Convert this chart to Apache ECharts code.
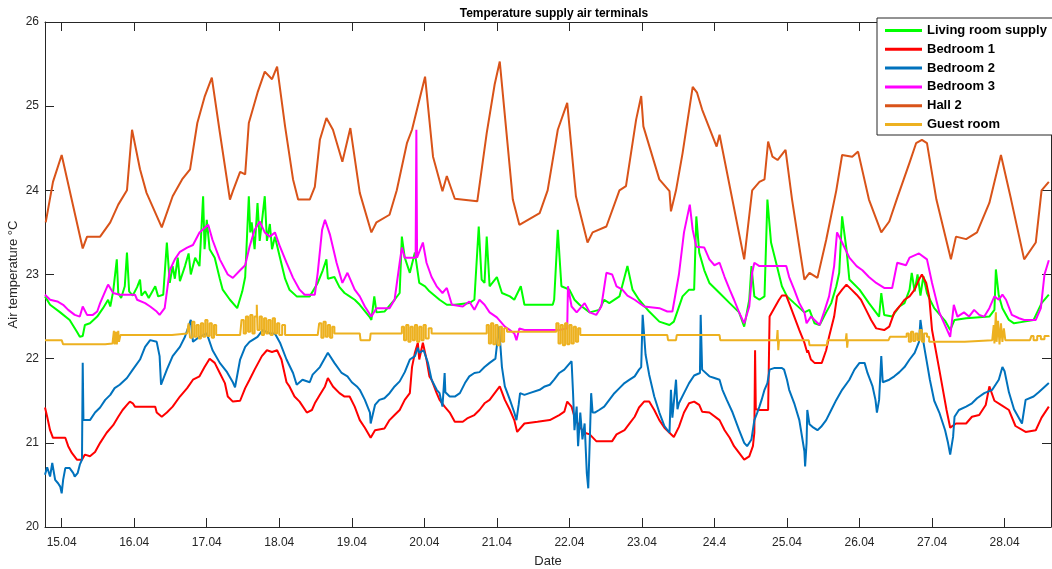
<!DOCTYPE html>
<html>
<head>
<meta charset="utf-8">
<script src="https://cdn.jsdelivr.net/npm/echarts@6/dist/echarts.min.js"></script>
<style>html,body{margin:0;padding:0;background:#fff}#c{width:1052px;height:569px}</style>
</head>
<body>
<div id="c"></div>
<script>
const dayTicks = [15,16,17,18,19,20,21,22,23,24,25,26,27,28];
const dayLabels = ['15.04','16.04','17.04','18.04','19.04','20.04','21.04','22.04','23.04','24.4','25.04','26.04','27.04','28.04'];
const seriesNames = ['Living room supply','Bedroom 1','Bedroom 2','Bedroom 3','Hall 2','Guest room'];

const livingRoom = [[14.77,22.74],[14.84,22.64],[14.98,22.55],[15.11,22.46],[15.21,22.32],[15.25,22.26],[15.29,22.27],[15.32,22.4],[15.39,22.42],[15.49,22.5],[15.57,22.6],[15.64,22.7],[15.67,22.62],[15.71,22.8],[15.76,23.18],[15.78,22.78],[15.82,22.72],[15.87,22.86],[15.90,23.26],[15.93,22.8],[15.98,22.75],[16.04,22.85],[16.08,22.94],[16.10,22.75],[16.15,22.8],[16.20,22.72],[16.29,22.86],[16.33,22.74],[16.40,22.76],[16.45,23.38],[16.49,22.9],[16.53,23.1],[16.56,22.95],[16.60,23.2],[16.63,22.92],[16.70,23.1],[16.75,23.25],[16.78,23.0],[16.84,23.2],[16.90,23.1],[16.95,23.93],[16.97,23.3],[17.00,23.65],[17.04,23.3],[17.11,23.2],[17.18,22.95],[17.22,22.82],[17.32,22.7],[17.42,22.6],[17.49,22.8],[17.53,22.97],[17.58,23.93],[17.60,23.5],[17.62,23.62],[17.66,23.3],[17.70,23.85],[17.73,23.4],[17.77,23.7],[17.80,23.93],[17.83,23.4],[17.87,23.6],[17.90,23.3],[17.94,23.45],[18.01,23.2],[18.08,22.95],[18.14,22.82],[18.24,22.74],[18.42,22.74],[18.53,22.9],[18.60,23.05],[18.65,23.18],[18.67,22.95],[18.76,22.97],[18.83,22.85],[18.90,22.78],[18.97,22.74],[19.04,22.7],[19.11,22.64],[19.25,22.49],[19.27,22.46],[19.31,22.74],[19.34,22.55],[19.45,22.56],[19.59,22.7],[19.66,22.78],[19.69,23.45],[19.73,23.2],[19.80,23.02],[19.87,23.26],[19.93,22.9],[20.01,22.86],[20.07,22.8],[20.21,22.7],[20.31,22.64],[20.42,22.64],[20.62,22.66],[20.69,22.7],[20.75,23.57],[20.79,22.94],[20.83,22.9],[20.86,23.45],[20.90,22.86],[21.00,22.97],[21.07,22.78],[21.18,22.74],[21.24,22.7],[21.33,22.86],[21.38,22.64],[21.77,22.64],[21.79,22.7],[21.84,23.53],[21.89,22.86],[22.00,22.82],[22.07,22.7],[22.14,22.64],[22.28,22.55],[22.41,22.58],[22.48,22.7],[22.55,22.66],[22.69,22.74],[22.80,23.1],[22.87,22.82],[22.96,22.7],[23.10,22.56],[23.24,22.44],[23.38,22.4],[23.44,22.44],[23.56,22.74],[23.65,22.82],[23.72,22.82],[23.75,23.69],[23.79,23.26],[23.86,23.05],[23.93,22.9],[24.07,22.78],[24.21,22.66],[24.34,22.55],[24.41,22.38],[24.48,22.7],[24.51,23.1],[24.55,22.74],[24.62,22.7],[24.69,22.74],[24.73,23.89],[24.78,23.38],[24.85,23.14],[24.93,22.86],[25.00,22.74],[25.10,22.66],[25.24,22.55],[25.31,22.58],[25.38,22.42],[25.45,22.4],[25.54,22.55],[25.61,22.66],[25.68,22.86],[25.72,23.02],[25.76,23.69],[25.82,23.3],[25.86,22.94],[26.00,22.82],[26.13,22.66],[26.27,22.5],[26.30,22.78],[26.34,22.52],[26.45,22.5],[26.55,22.62],[26.62,22.66],[26.69,22.82],[26.72,23.02],[26.76,22.8],[26.80,23.0],[26.84,22.75],[26.88,22.98],[26.93,22.78],[26.96,22.72],[27.03,22.6],[27.18,22.45],[27.25,22.34],[27.31,22.46],[27.47,22.48],[27.79,22.5],[27.86,22.58],[27.88,23.06],[27.92,22.75],[27.97,22.6],[28.06,22.46],[28.13,22.42],[28.27,22.44],[28.40,22.46],[28.51,22.66],[28.61,22.76]];

const bedroom1 = [[14.77,21.42],[14.80,21.31],[14.84,21.15],[14.88,21.06],[15.05,21.06],[15.09,20.96],[15.14,20.88],[15.21,20.8],[15.28,20.8],[15.32,20.86],[15.39,20.84],[15.46,20.89],[15.53,21.0],[15.62,21.12],[15.71,21.21],[15.78,21.31],[15.84,21.39],[15.90,21.45],[15.94,21.49],[15.98,21.47],[16.01,21.43],[16.29,21.43],[16.31,21.36],[16.38,21.31],[16.45,21.36],[16.53,21.43],[16.63,21.55],[16.73,21.65],[16.81,21.75],[16.90,21.79],[16.97,21.9],[17.04,22.0],[17.11,21.95],[17.18,21.83],[17.25,21.71],[17.29,21.55],[17.36,21.49],[17.46,21.5],[17.53,21.65],[17.59,21.75],[17.66,21.87],[17.76,22.03],[17.83,22.1],[17.90,22.08],[17.97,22.1],[18.03,21.99],[18.10,21.72],[18.14,21.67],[18.21,21.55],[18.28,21.49],[18.38,21.36],[18.45,21.39],[18.49,21.47],[18.56,21.57],[18.63,21.67],[18.67,21.77],[18.74,21.67],[18.83,21.59],[18.90,21.55],[18.97,21.55],[19.04,21.43],[19.11,21.27],[19.18,21.18],[19.26,21.06],[19.32,21.15],[19.45,21.17],[19.52,21.27],[19.59,21.33],[19.66,21.39],[19.73,21.51],[19.80,21.59],[19.83,21.9],[19.87,22.07],[19.91,22.19],[19.93,21.99],[19.98,22.19],[20.03,21.99],[20.07,21.79],[20.10,21.75],[20.17,21.59],[20.21,21.51],[20.28,21.43],[20.35,21.36],[20.42,21.25],[20.53,21.25],[20.59,21.29],[20.69,21.33],[20.76,21.39],[20.83,21.47],[20.90,21.51],[20.97,21.59],[21.04,21.67],[21.11,21.51],[21.18,21.39],[21.24,21.27],[21.28,21.13],[21.38,21.23],[21.56,21.25],[21.73,21.27],[21.86,21.33],[21.93,21.37],[21.97,21.49],[22.03,21.43],[22.07,21.31],[22.14,21.19],[22.21,21.12],[22.28,21.1],[22.37,21.02],[22.59,21.02],[22.65,21.1],[22.76,21.15],[22.83,21.23],[22.90,21.31],[22.96,21.42],[23.03,21.49],[23.10,21.49],[23.17,21.39],[23.24,21.27],[23.31,21.18],[23.44,21.07],[23.51,21.19],[23.58,21.36],[23.65,21.47],[23.72,21.49],[23.79,21.45],[23.83,21.37],[23.93,21.36],[24.07,21.27],[24.14,21.15],[24.21,21.06],[24.27,20.96],[24.34,20.88],[24.41,20.8],[24.48,20.84],[24.53,20.96],[24.55,21.12],[24.56,22.1],[24.57,21.4],[24.62,21.39],[24.74,21.39],[24.76,22.5],[24.89,22.7],[24.93,22.75],[24.99,22.75],[25.03,22.66],[25.10,22.5],[25.17,22.34],[25.24,22.19],[25.28,22.07],[25.29,22.1],[25.33,21.99],[25.38,21.95],[25.48,21.95],[25.54,22.1],[25.58,22.26],[25.65,22.5],[25.69,22.74],[25.76,22.82],[25.82,22.88],[25.89,22.82],[25.96,22.76],[26.02,22.7],[26.09,22.58],[26.16,22.46],[26.23,22.36],[26.34,22.34],[26.41,22.38],[26.48,22.55],[26.55,22.62],[26.62,22.7],[26.69,22.74],[26.76,22.82],[26.82,22.94],[26.86,23.0],[26.92,22.9],[26.96,22.74],[27.00,22.34],[27.10,21.87],[27.20,21.39],[27.25,21.18],[27.33,21.23],[27.47,21.23],[27.55,21.31],[27.65,21.33],[27.74,21.45],[27.79,21.67],[27.86,21.5],[27.95,21.45],[28.06,21.39],[28.15,21.2],[28.29,21.13],[28.43,21.15],[28.51,21.3],[28.61,21.43]];

const bedroom2 = [[14.77,20.62],[14.80,20.71],[14.84,20.6],[14.87,20.76],[14.91,20.56],[14.95,20.52],[14.98,20.48],[15.00,20.4],[15.02,20.56],[15.05,20.7],[15.11,20.7],[15.16,20.64],[15.18,20.6],[15.22,20.64],[15.25,20.74],[15.28,20.8],[15.29,21.95],[15.30,21.27],[15.39,21.27],[15.46,21.36],[15.53,21.42],[15.60,21.51],[15.67,21.57],[15.73,21.65],[15.80,21.69],[15.90,21.77],[15.98,21.87],[16.08,21.99],[16.15,22.14],[16.22,22.22],[16.31,22.2],[16.35,22.03],[16.37,21.69],[16.45,21.87],[16.53,22.03],[16.63,22.14],[16.70,22.26],[16.78,22.46],[16.81,22.2],[16.90,22.26],[17.00,22.3],[17.08,22.1],[17.18,21.95],[17.28,21.84],[17.36,21.72],[17.39,21.66],[17.46,21.99],[17.53,22.14],[17.59,22.2],[17.70,22.26],[17.77,22.34],[17.87,22.3],[17.94,22.3],[18.01,22.19],[18.10,21.99],[18.19,21.83],[18.24,21.69],[18.32,21.75],[18.42,21.72],[18.46,21.81],[18.56,21.9],[18.67,22.07],[18.76,21.95],[18.86,21.83],[18.94,21.79],[19.00,21.72],[19.07,21.67],[19.11,21.63],[19.18,21.51],[19.25,21.36],[19.26,21.23],[19.32,21.45],[19.38,21.51],[19.45,21.53],[19.52,21.59],[19.59,21.67],[19.66,21.73],[19.73,21.84],[19.80,21.99],[19.87,22.03],[19.91,22.13],[19.93,22.07],[19.99,22.1],[20.05,21.95],[20.10,21.75],[20.17,21.63],[20.21,21.59],[20.25,21.43],[20.28,21.83],[20.29,21.6],[20.35,21.55],[20.42,21.55],[20.49,21.59],[20.56,21.71],[20.62,21.79],[20.69,21.83],[20.76,21.84],[20.83,21.9],[20.90,21.95],[20.98,22.0],[21.03,22.38],[21.07,21.9],[21.11,21.67],[21.18,21.51],[21.24,21.36],[21.27,21.27],[21.30,21.45],[21.32,21.59],[21.38,21.57],[21.45,21.59],[21.59,21.63],[21.66,21.67],[21.73,21.69],[21.79,21.75],[21.86,21.83],[21.93,21.87],[22.03,21.97],[22.05,21.6],[22.07,21.15],[22.10,21.43],[22.12,20.96],[22.15,21.36],[22.18,21.04],[22.21,21.23],[22.24,20.64],[22.26,20.46],[22.28,21.0],[22.30,21.59],[22.32,21.36],[22.35,21.36],[22.41,21.39],[22.48,21.43],[22.55,21.51],[22.62,21.59],[22.69,21.65],[22.76,21.71],[22.83,21.75],[22.90,21.79],[22.96,21.87],[22.99,21.9],[23.01,22.52],[23.05,22.05],[23.10,21.81],[23.17,21.55],[23.24,21.36],[23.31,21.2],[23.38,21.12],[23.40,21.63],[23.42,21.3],[23.47,21.75],[23.49,21.4],[23.51,21.47],[23.58,21.59],[23.65,21.71],[23.72,21.8],[23.80,21.83],[23.81,22.52],[23.83,21.87],[23.93,21.79],[24.00,21.77],[24.07,21.75],[24.11,21.63],[24.17,21.51],[24.25,21.36],[24.34,21.15],[24.41,21.0],[24.45,20.96],[24.51,21.04],[24.55,21.27],[24.59,21.36],[24.62,21.43],[24.65,21.51],[24.69,21.63],[24.73,21.71],[24.76,21.87],[24.83,21.89],[24.93,21.89],[24.96,21.87],[25.00,21.75],[25.03,21.63],[25.10,21.47],[25.17,21.27],[25.24,20.9],[25.25,20.72],[25.27,21.0],[25.28,21.39],[25.31,21.22],[25.35,21.19],[25.42,21.15],[25.47,21.19],[25.54,21.27],[25.61,21.39],[25.68,21.51],[25.76,21.63],[25.86,21.75],[25.93,21.87],[26.00,21.95],[26.07,21.95],[26.11,21.83],[26.18,21.67],[26.22,21.51],[26.24,21.36],[26.27,21.51],[26.30,22.03],[26.32,21.72],[26.41,21.75],[26.48,21.79],[26.55,21.84],[26.62,21.9],[26.69,21.99],[26.76,22.07],[26.82,22.2],[26.84,22.46],[26.88,22.2],[26.93,21.95],[26.97,21.75],[27.03,21.5],[27.10,21.36],[27.18,21.15],[27.22,21.0],[27.25,20.86],[27.29,21.07],[27.31,21.31],[27.37,21.39],[27.47,21.43],[27.55,21.47],[27.62,21.53],[27.72,21.59],[27.83,21.63],[27.92,21.75],[27.97,21.9],[28.00,21.85],[28.06,21.6],[28.13,21.4],[28.24,21.23],[28.29,21.51],[28.40,21.55],[28.47,21.6],[28.61,21.71]];

const bedroom3 = [[14.77,22.76],[14.84,22.7],[14.94,22.68],[15.02,22.64],[15.09,22.58],[15.18,22.52],[15.25,22.5],[15.29,22.62],[15.35,22.52],[15.43,22.52],[15.49,22.56],[15.53,22.66],[15.62,22.84],[15.64,22.88],[15.71,22.78],[15.80,22.76],[16.01,22.76],[16.04,22.7],[16.15,22.66],[16.22,22.62],[16.31,22.56],[16.35,22.52],[16.42,22.6],[16.49,23.05],[16.56,23.18],[16.63,23.27],[16.73,23.32],[16.81,23.35],[16.90,23.5],[17.02,23.59],[17.08,23.41],[17.18,23.18],[17.29,23.0],[17.36,22.96],[17.46,23.05],[17.53,23.11],[17.59,23.33],[17.66,23.53],[17.73,23.63],[17.80,23.5],[17.87,23.45],[17.94,23.5],[18.01,23.33],[18.10,23.14],[18.19,22.96],[18.28,22.82],[18.35,22.76],[18.49,22.76],[18.53,23.02],[18.59,23.53],[18.63,23.65],[18.70,23.47],[18.79,23.14],[18.87,22.9],[18.94,23.02],[19.04,22.82],[19.11,22.74],[19.18,22.62],[19.27,22.5],[19.34,22.6],[19.52,22.6],[19.59,22.7],[19.66,23.14],[19.69,23.32],[19.73,23.2],[19.88,23.2],[19.89,24.72],[19.90,23.2],[19.98,23.38],[20.03,23.14],[20.10,22.97],[20.17,22.86],[20.25,22.78],[20.31,22.84],[20.38,22.64],[20.53,22.62],[20.62,22.68],[20.69,22.58],[20.76,22.7],[20.83,22.64],[20.90,22.55],[21.00,22.49],[21.11,22.38],[21.18,22.34],[21.24,22.3],[21.27,22.22],[21.31,22.36],[21.38,22.34],[21.86,22.34],[21.97,22.36],[21.98,22.86],[22.03,22.62],[22.10,22.55],[22.21,22.66],[22.28,22.55],[22.37,22.52],[22.44,22.62],[22.51,23.02],[22.59,23.0],[22.65,22.86],[22.73,22.82],[22.80,22.75],[22.90,22.7],[23.03,22.62],[23.24,22.6],[23.35,22.56],[23.42,22.56],[23.51,23.0],[23.58,23.5],[23.66,23.83],[23.70,23.53],[23.75,23.33],[23.86,23.32],[23.93,23.18],[24.00,23.11],[24.07,23.14],[24.14,22.97],[24.21,22.82],[24.27,22.7],[24.34,22.55],[24.41,22.42],[24.48,22.62],[24.52,23.02],[24.55,23.14],[24.62,23.1],[24.99,23.1],[25.03,22.97],[25.10,22.82],[25.17,22.66],[25.24,22.55],[25.27,22.42],[25.33,22.5],[25.45,22.4],[25.51,22.55],[25.58,22.74],[25.65,23.1],[25.69,23.5],[25.76,23.38],[25.86,23.2],[25.96,23.1],[26.04,23.05],[26.13,22.97],[26.23,22.9],[26.34,22.84],[26.45,22.84],[26.52,23.14],[26.64,23.11],[26.69,23.2],[26.82,23.25],[26.93,23.18],[27.00,22.9],[27.10,22.55],[27.25,22.26],[27.30,22.64],[27.35,22.5],[27.44,22.55],[27.51,22.5],[27.58,22.58],[27.65,22.52],[27.72,22.5],[27.79,22.6],[27.86,22.74],[27.92,22.7],[27.97,22.76],[28.02,22.7],[28.10,22.52],[28.20,22.48],[28.27,22.46],[28.43,22.46],[28.50,22.6],[28.55,23.0],[28.61,23.17]];

const hall2 = [[14.78,23.62],[14.88,24.1],[15.00,24.42],[15.29,23.31],[15.35,23.45],[15.53,23.45],[15.67,23.62],[15.78,23.83],[15.90,24.0],[15.97,24.72],[16.08,24.25],[16.17,23.97],[16.38,23.56],[16.53,23.93],[16.66,24.13],[16.77,24.25],[16.87,24.8],[16.97,25.11],[17.07,25.34],[17.18,24.69],[17.32,23.89],[17.36,23.99],[17.46,24.22],[17.53,24.19],[17.58,24.8],[17.70,25.16],[17.80,25.41],[17.90,25.32],[17.97,25.47],[18.08,24.76],[18.19,24.13],[18.26,23.89],[18.42,23.89],[18.49,24.04],[18.56,24.6],[18.65,24.86],[18.74,24.72],[18.87,24.34],[18.98,24.74],[19.11,23.97],[19.27,23.5],[19.34,23.62],[19.52,23.71],[19.62,24.0],[19.76,24.56],[19.83,24.72],[20.01,25.35],[20.12,24.4],[20.25,23.99],[20.31,24.17],[20.42,23.9],[20.73,23.87],[20.86,24.68],[20.97,25.26],[21.04,25.53],[21.22,23.89],[21.31,23.59],[21.59,23.73],[21.70,24.0],[21.84,24.72],[21.97,25.04],[22.09,23.93],[22.25,23.38],[22.32,23.5],[22.51,23.57],[22.69,24.0],[22.78,24.05],[22.92,24.84],[22.99,25.12],[23.02,24.76],[23.24,24.13],[23.38,23.99],[23.40,23.75],[23.47,24.0],[23.56,24.44],[23.70,25.23],[23.76,25.16],[23.83,24.96],[24.03,24.52],[24.07,24.66],[24.41,23.18],[24.52,24.0],[24.62,24.1],[24.69,24.13],[24.74,24.58],[24.80,24.4],[24.87,24.36],[24.98,24.48],[25.07,23.89],[25.24,22.94],[25.31,23.02],[25.42,22.96],[25.54,23.41],[25.68,24.0],[25.76,24.42],[25.90,24.4],[25.98,24.46],[26.13,23.89],[26.30,23.5],[26.41,23.63],[26.52,23.91],[26.69,24.33],[26.78,24.56],[26.86,24.6],[26.93,24.56],[27.06,23.89],[27.26,23.18],[27.33,23.45],[27.47,23.42],[27.62,23.5],[27.79,23.85],[27.95,24.42],[28.09,23.89],[28.27,23.18],[28.43,23.38],[28.51,24.0],[28.61,24.1]];

const guestRoom = [[14.77,22.22],[15.0,22.2],[15.02,22.17],[15.6,22.18],[15.7,22.2],[15.72,22.33],[15.73,22.17],[15.75,22.32],[15.76,22.17],[15.78,22.33],[15.79,22.2],[15.81,22.28],[16.49,22.28],[16.52,22.3],[16.73,22.3],[16.75,22.42],[16.77,22.25],[16.80,22.44],[16.83,22.26],[16.86,22.4],[16.89,22.24],[16.92,22.42],[16.95,22.26],[16.98,22.46],[17.01,22.27],[17.04,22.42],[17.07,22.25],[17.10,22.4],[17.13,22.28],[17.46,22.28],[17.48,22.46],[17.51,22.3],[17.54,22.5],[17.57,22.32],[17.60,22.52],[17.63,22.3],[17.66,22.5],[17.69,22.64],[17.70,22.34],[17.73,22.5],[17.76,22.28],[17.79,22.48],[17.82,22.3],[17.85,22.46],[17.88,22.28],[17.91,22.48],[17.94,22.3],[17.97,22.42],[18.0,22.28],[18.04,22.4],[18.08,22.28],[18.53,22.28],[18.55,22.42],[18.58,22.25],[18.61,22.44],[18.64,22.26],[18.67,22.4],[18.70,22.25],[18.73,22.38],[18.76,22.3],[19.11,22.3],[19.12,22.22],[19.25,22.22],[19.26,22.3],[19.66,22.3],[19.69,22.38],[19.72,22.22],[19.75,22.4],[19.78,22.2],[19.81,22.38],[19.84,22.22],[19.87,22.4],[19.90,22.2],[19.93,22.38],[19.96,22.22],[19.99,22.4],[20.02,22.24],[20.06,22.36],[20.10,22.3],[20.83,22.3],[20.86,22.4],[20.89,22.18],[20.92,22.42],[20.95,22.17],[20.98,22.4],[21.01,22.16],[21.04,22.38],[21.07,22.2],[21.10,22.36],[21.14,22.32],[21.79,22.32],[21.82,22.42],[21.85,22.18],[21.88,22.4],[21.91,22.16],[21.94,22.42],[21.97,22.17],[22.00,22.4],[22.03,22.18],[22.06,22.38],[22.09,22.2],[22.12,22.36],[22.15,22.28],[23.35,22.28],[23.36,22.22],[23.47,22.22],[23.48,22.28],[24.07,22.28],[24.08,22.22],[24.86,22.22],[24.87,22.34],[24.88,22.1],[24.89,22.22],[25.30,22.22],[25.31,22.16],[25.55,22.16],[25.56,22.22],[25.81,22.22],[25.82,22.3],[25.83,22.13],[25.84,22.22],[26.40,22.22],[26.42,22.26],[26.62,22.26],[26.65,22.3],[26.68,22.2],[26.71,22.32],[26.74,22.21],[26.77,22.3],[26.80,22.22],[26.83,22.34],[26.86,22.2],[26.89,22.3],[26.93,22.26],[26.96,22.2],[27.45,22.2],[27.46,22.22],[27.83,22.22],[27.85,22.4],[27.86,22.18],[27.88,22.55],[27.89,22.2],[27.91,22.45],[27.93,22.17],[27.95,22.42],[27.97,22.2],[27.99,22.36],[28.01,22.22],[28.35,22.22],[28.37,22.27],[28.40,22.22],[28.45,22.27],[28.50,22.23],[28.55,22.27],[28.61,22.26]];

const seriesData = [livingRoom, bedroom1, bedroom2, bedroom3, hall2, guestRoom];
const colors = ['#00FF00','#FF0000','#0072BD','#FF00FF','#D95319','#EDB120'];
const stepMode = [false, false, false, false, false, 'end'];

const font = "'Liberation Sans', Arial, Helvetica, sans-serif";
const axisColor = '#262626';
const chart = echarts.init(document.getElementById('c'), null, {renderer: 'canvas'});
const labelFor = v => { const i = dayTicks.indexOf(Math.round(v)); return i >= 0 ? dayLabels[i] : ''; };

chart.setOption({
  animation: false,
  backgroundColor: '#fff',
  title: {
    text: 'Temperature supply air terminals',
    left: 549, top: 3, textAlign: 'center',
    textStyle: {fontFamily: font, fontSize: 12, fontWeight: 'bold', color: '#000'}
  },
  grid: {left: 45, right: 1, top: 22, bottom: 42, containLabel: false, outerBoundsMode: 'none'},
  legend: {
    orient: 'vertical', left: 877, top: 18,
    padding: [5, 8, 3, 8],
    itemGap: 3.8, itemWidth: 37, itemHeight: 3,
    icon: 'rect',
    backgroundColor: '#fff', borderColor: '#262626', borderWidth: 1, borderRadius: 0,
    textStyle: {fontFamily: font, fontSize: 13, fontWeight: 'bold', color: '#000', lineHeight: 15},
    data: seriesNames
  },
  xAxis: [{
    type: 'value', min: 14.77, max: 28.64,
    name: 'Date', nameLocation: 'middle', nameGap: 28, nameMoveOverlap: false,
    nameTextStyle: {fontFamily: font, fontSize: 13, color: axisColor},
    axisLine: {show: true, lineStyle: {color: axisColor, width: 1}},
    axisTick: {show: true, inside: true, length: 9, customValues: dayTicks, lineStyle: {color: axisColor}},
    axisLabel: {customValues: dayTicks, formatter: labelFor, margin: 10, fontFamily: font, fontSize: 12, color: axisColor},
    splitLine: {show: false}
  }, {
    type: 'value', min: 14.77, max: 28.64, position: 'top',
    axisLine: {show: true, onZero: false, lineStyle: {color: axisColor, width: 1}},
    axisTick: {show: true, inside: true, length: 9, customValues: dayTicks, lineStyle: {color: axisColor}},
    axisLabel: {show: false},
    splitLine: {show: false}
  }],
  yAxis: [{
    type: 'value', min: 20, max: 26, interval: 1,
    name: 'Air temperature °C', nameLocation: 'middle', nameGap: 25, nameMoveOverlap: false,
    nameTextStyle: {fontFamily: font, fontSize: 13, color: axisColor},
    axisLine: {show: true, lineStyle: {color: axisColor, width: 1}},
    axisTick: {show: true, inside: true, length: 9, lineStyle: {color: axisColor}},
    axisLabel: {margin: 6, fontFamily: font, fontSize: 12, color: axisColor},
    splitLine: {show: false}
  }, {
    type: 'value', min: 20, max: 26, interval: 1, position: 'right',
    axisLine: {show: true, onZero: false, lineStyle: {color: axisColor, width: 1}},
    axisTick: {show: true, inside: true, length: 9, lineStyle: {color: axisColor}},
    axisLabel: {show: false},
    splitLine: {show: false}
  }],
  series: seriesNames.map((n, i) => ({
    name: n, type: 'line', data: seriesData[i],
    xAxisIndex: 0, yAxisIndex: 0,
    step: stepMode[i],
    showSymbol: false, symbol: 'none',
    color: colors[i],
    lineStyle: {color: colors[i], width: 2},
    emphasis: {disabled: true}
  }))
});
</script>
</body>
</html>
